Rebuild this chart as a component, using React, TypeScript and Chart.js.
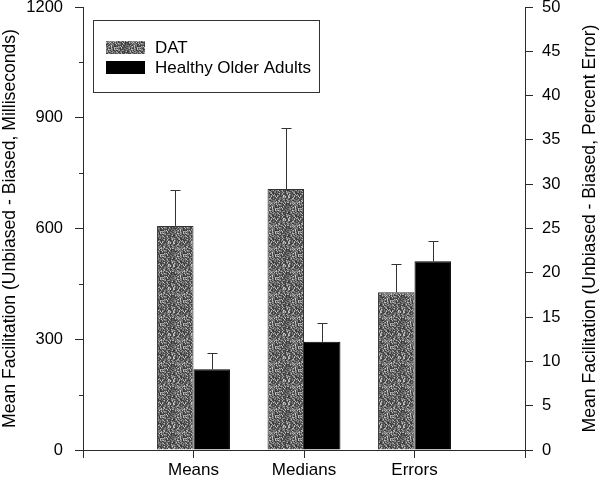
import React, { useEffect, useRef } from 'react';
import { Chart, registerables } from 'chart.js';

Chart.register(...registerables);

// ---- data ----
const categories = ['Means', 'Medians', 'Errors'];
const seriesNames = ['DAT', 'Healthy Older Adults'];

// milliseconds (left axis)
const datMs = [607, 707, null];
const datMsErr = [97, 165, null];
const hoaMs = [219, 293, null];
const hoaMsErr = [44, 51, null];

// percent error (right axis)
const datPct = [null, null, 17.8];
const datPctErr = [null, null, 3.2];
const hoaPct = [null, null, 21.3];
const hoaPctErr = [null, null, 2.3];

const leftTicks = [0, 300, 600, 900, 1200];
const leftMinorTicks = [150, 450, 750, 1050];
const rightTicks = [0, 5, 10, 15, 20, 25, 30, 35, 40, 45, 50];

const leftTitle = 'Mean Facilitation (Unbiased - Biased, Milliseconds)';
const rightTitle = 'Mean Facilitation (Unbiased - Biased, Percent Error)';

// ---- styles ----
const FONT = '"Liberation Sans", Arial, Helvetica, sans-serif';
const AXIS = '#2a2a2a';

function pad(arr: (number | null)[]) {
  return [null, ...arr, null];
}

// stippled grey texture (deterministic hash, purely decorative)
function makePattern(ctx: CanvasRenderingContext2D): CanvasPattern | string {
  const N = 23;
  const c = document.createElement('canvas');
  c.width = N;
  c.height = N;
  const g = c.getContext('2d');
  if (!g) return '#777';
  for (let y = 0; y < N; y++) {
    for (let x = 0; x < N; x++) {
      let h = (x * 374761393 + y * 668265263) | 0;
      h = Math.imul(h ^ (h >>> 13), 1274126177);
      h = (h ^ (h >>> 16)) >>> 0;
      const k = h % 100;
      const lvl = k < 45 ? 55 + (k % 5) * 8 : k < 80 ? 105 + (k % 5) * 8 : 160 + (k % 5) * 10;
      g.fillStyle = `rgb(${lvl},${lvl},${lvl})`;
      g.fillRect(x, y, 1, 1);
    }
  }
  return ctx.createPattern(c, 'repeat') || '#777';
}

export default function App() {
  const ref = useRef<HTMLCanvasElement>(null);

  useEffect(() => {
    const canvas = ref.current;
    if (!canvas) return;
    const ctx = canvas.getContext('2d');
    if (!ctx) return;
    const pattern = makePattern(ctx);

    const errorBars = {
      id: 'errorBars',
      afterDatasetsDraw(chart: any) {
        const c = chart.ctx;
        c.save();
        c.strokeStyle = '#333';
        c.lineWidth = 1;
        chart.data.datasets.forEach((ds: any, i: number) => {
          const meta = chart.getDatasetMeta(i);
          const scale = chart.scales[ds.yAxisID];
          meta.data.forEach((el: any, j: number) => {
            const v = ds.data[j];
            const e = ds.errors[j];
            if (v == null || e == null) return;
            const x = Math.round(el.x) + 0.5;
            const yTop = Math.round(scale.getPixelForValue(v + e)) + 0.5;
            c.beginPath();
            c.moveTo(x, el.y);
            c.lineTo(x, yTop);
            c.moveTo(x - 5, yTop);
            c.lineTo(x + 5, yTop);
            c.stroke();
          });
        });
        c.restore();
      },
    };

    const decorations = {
      id: 'decorations',
      afterDraw(chart: any) {
        const c = chart.ctx;
        const area = chart.chartArea;
        const ys = chart.scales.y;
        c.save();
        // minor ticks on left axis
        c.strokeStyle = AXIS;
        c.lineWidth = 1;
        leftMinorTicks.forEach((v) => {
          const py = Math.round(ys.getPixelForValue(v)) + 0.5;
          c.beginPath();
          c.moveTo(area.left - 4, py);
          c.lineTo(area.left, py);
          c.stroke();
        });

        // axis titles
        c.fillStyle = '#000';
        c.font = `17.6px ${FONT}`;
        c.textAlign = 'center';
        c.textBaseline = 'middle';
        const midY = (area.top + area.bottom) / 2;
        c.save();
        c.translate(10, midY);
        c.rotate(-Math.PI / 2);
        c.fillText(leftTitle, 0, 0);
        c.restore();
        c.save();
        c.translate(590, midY);
        c.rotate(-Math.PI / 2);
        c.fillText(rightTitle, 0, 0);
        c.restore();

        // legend box
        const bx = area.left + 10;
        const by = area.top + 13;
        const bw = 226;
        const bh = 72;
        c.fillStyle = '#fff';
        c.fillRect(bx, by, bw, bh);
        c.strokeStyle = '#333';
        c.strokeRect(bx + 0.5, by + 0.5, bw, bh);
        const swX = bx + 13;
        const rows = [
          { y: by + 21, fill: pattern },
          { y: by + 41, fill: '#000' },
        ];
        c.font = `17px ${FONT}`;
        c.textAlign = 'left';
        rows.forEach((r, i) => {
          c.fillStyle = r.fill as any;
          c.fillRect(swX, r.y, 39, 13);
          c.fillStyle = '#000';
          c.fillText(seriesNames[i], swX + 49, r.y + 7);
        });
        c.restore();
      },
    };

    const labels = ['', ...categories, ''];
    const numLabel = (v: any) => String(v);

    const chart = new Chart(canvas, {
      type: 'bar',
      data: {
        labels,
        datasets: [
          {
            label: seriesNames[0],
            data: pad(datMs),
            errors: pad(datMsErr),
            yAxisID: 'y',
            backgroundColor: pattern as any,
            borderColor: '#333',
            borderWidth: 1,
            skipNull: true,
          } as any,
          {
            label: seriesNames[1],
            data: pad(hoaMs),
            errors: pad(hoaMsErr),
            yAxisID: 'y',
            backgroundColor: '#000',
            borderColor: '#000',
            borderWidth: 1,
            skipNull: true,
          } as any,
          {
            label: seriesNames[0],
            data: pad(datPct),
            errors: pad(datPctErr),
            yAxisID: 'y2',
            backgroundColor: pattern as any,
            borderColor: '#333',
            borderWidth: 1,
            skipNull: true,
          } as any,
          {
            label: seriesNames[1],
            data: pad(hoaPct),
            errors: pad(hoaPctErr),
            yAxisID: 'y2',
            backgroundColor: '#000',
            borderColor: '#000',
            borderWidth: 1,
            skipNull: true,
          } as any,
        ],
      },
      options: {
        responsive: false,
        animation: false,
        devicePixelRatio: 1,
        layout: { padding: { top: 7, left: 0, right: 0, bottom: 0 } },
        datasets: {
          bar: { categoryPercentage: 0.66, barPercentage: 1.0 },
        },
        plugins: {
          legend: { display: false },
          tooltip: { enabled: false },
        },
        scales: {
          x: {
            type: 'category',
            offset: false,
            grid: {
              offset: false,
              drawOnChartArea: false,
              drawTicks: true,
              tickLength: 8,
              color: AXIS,
            },
            border: { display: true, color: AXIS },
            ticks: {
              autoSkip: false,
              maxRotation: 0,
              color: '#000',
              padding: 2,
              font: { family: FONT, size: 17 },
            },
            afterFit: (s: any) => {
              s.height = 33;
              s.paddingLeft = 0;
              s.paddingRight = 0;
            },
          },
          y: {
            type: 'linear',
            position: 'left',
            min: 0,
            max: 1200,
            afterBuildTicks: (s: any) => {
              s.ticks = leftTicks.map((v) => ({ value: v }));
            },
            grid: { drawOnChartArea: false, tickLength: 8, color: AXIS },
            border: { display: true, color: AXIS },
            ticks: {
              color: '#000',
              padding: 12,
              callback: numLabel,
              font: { family: FONT, size: 16.5 },
            },
            afterFit: (s: any) => {
              s.width = 83;
              s.paddingTop = 0;
              s.paddingBottom = 0;
            },
          },
          y2: {
            type: 'linear',
            position: 'right',
            min: 0,
            max: 50,
            afterBuildTicks: (s: any) => {
              s.ticks = rightTicks.map((v) => ({ value: v }));
            },
            grid: { drawOnChartArea: false, tickLength: 8, color: AXIS },
            border: { display: true, color: AXIS },
            ticks: {
              color: '#000',
              padding: 9,
              callback: numLabel,
              font: { family: FONT, size: 16.5 },
            },
            afterFit: (s: any) => {
              s.width = 75;
              s.paddingTop = 0;
              s.paddingBottom = 0;
            },
          },
        },
      } as any,
      plugins: [errorBars, decorations],
    });

    return () => chart.destroy();
  }, []);

  return (
    <div style={{ position: 'absolute', left: 0, top: 0, width: 600, height: 483, background: '#fff' }}>
      <canvas ref={ref} width={600} height={483} style={{ display: 'block', width: 600, height: 483 }} />
    </div>
  );
}
